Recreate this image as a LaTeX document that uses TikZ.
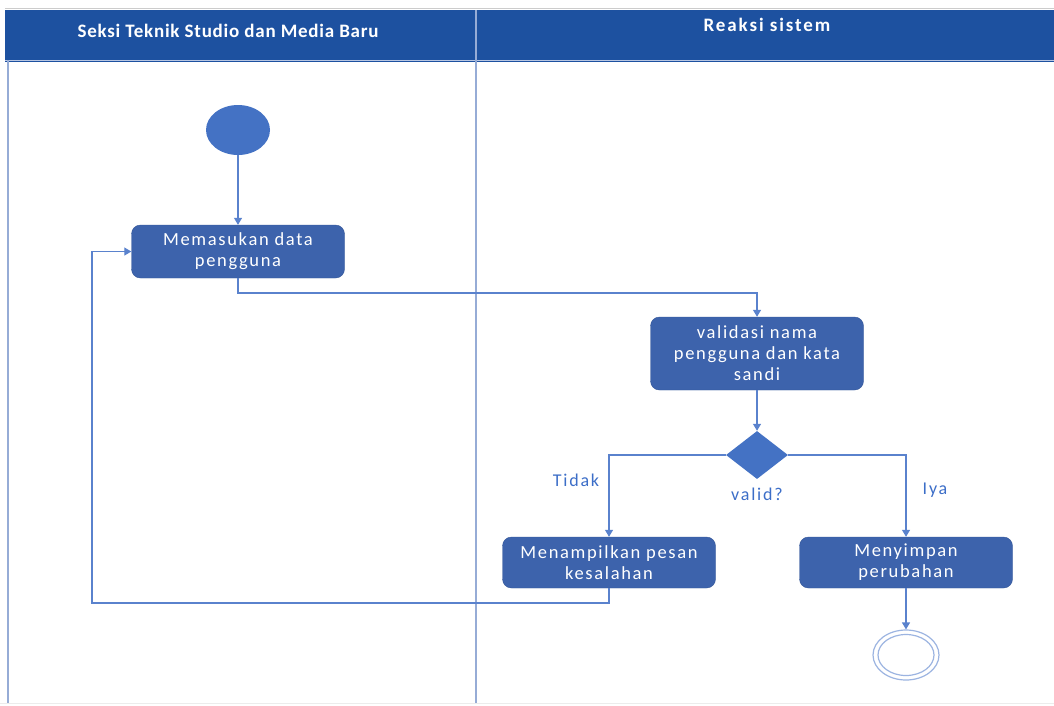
\documentclass[tikz,border=0pt]{standalone}
\usepackage{fontspec}
\setmainfont{Carlito}
\newfontfamily\spaced[LetterSpace=9]{Carlito}
\newfontfamily\lblfont[LetterSpace=10]{Carlito}
\newfontfamily\hdrfont[LetterSpace=4]{Carlito}
\newfontfamily\hdrwide[LetterSpace=10]{Carlito}
\usetikzlibrary{arrows.meta,shapes.geometric}
\definecolor{hdr}{RGB}{29,81,160}
\definecolor{boxfill}{RGB}{61,99,172}
\definecolor{boxedge}{RGB}{52,86,152}
\definecolor{nodefill}{RGB}{68,114,196}
\definecolor{wire}{RGB}{90,130,205}
\definecolor{lane}{RGB}{150,172,214}
\definecolor{lbl}{RGB}{60,110,200}
\begin{document}
\begin{tikzpicture}[x=1pt,y=-1pt,
  act/.style={draw=boxedge,fill=boxfill,rounded corners=9pt,minimum width=213pt,
    text=white,align=center,font=\spaced\fontsize{18.5}{21}\selectfont,inner sep=2pt},
  flow/.style={draw=wire,line width=1.2pt,-{Triangle[length=7pt,width=8pt]}},
  lbltext/.style={text=lbl,font=\lblfont\fontsize{18}{21}\selectfont}]
  \useasboundingbox (0,0) rectangle (1054,705);
  \fill[white] (0,0) rectangle (1054,705);
  % swimlane frame
  \draw[gray!40,line width=0.8pt] (5,8) -- (1054,8);
  \fill[hdr] (5,10) rectangle (1054,62);
  \draw[lane!70,line width=0.8pt] (5,60) -- (1054,60);
  \draw[lane,line width=1.4pt] (8,60) -- (8,703);
  \draw[lane,line width=1.4pt] (476,10) -- (476,703);
  \draw[gray!15,line width=0.8pt] (0,703) -- (1054,703);
  \node[text=white,font=\hdrfont\bfseries\fontsize{19}{22}\selectfont] (lanea) at (228,31) {Seksi Teknik Studio dan Media Baru};
  \node[text=white,font=\hdrwide\bfseries\fontsize{19}{22}\selectfont] (laneb) at (767,25) {Reaksi sistem};

  % nodes
  \node[ellipse,fill=nodefill,minimum width=64pt,minimum height=50pt,inner sep=0] (start) at (238,130) {};
  \node[act,minimum height=53pt] (input) at (238,251.5) {Memasukan data\\pengguna};
  \node[act,minimum height=73pt] (check) at (757,353.5) {validasi nama\\pengguna dan kata\\sandi};
  \node[diamond,fill=nodefill,minimum width=62pt,minimum height=48pt,inner sep=0] (valid) at (757,455) {};
  \node[act,minimum height=51pt] (error) at (609,562.5) {Menampilkan pesan\\kesalahan};
  \node[act,minimum height=51pt] (save) at (906,562.5) {Menyimpan\\perubahan};
  \node[ellipse,draw=wire!60,line width=1.2pt,minimum width=66pt,minimum height=50pt,inner sep=0] (finish) at (906,655) {};
  \node[ellipse,draw=wire!60,line width=1.2pt,minimum width=56pt,minimum height=41pt,inner sep=0] (finishin) at (finish.center) {};

  % labels
  \node[lbltext] (tidak) at (576,480) {Tidak};
  \node[lbltext] (validq) at (757,494) {valid?};
  \node[lbltext] (iya) at (935,490) {Iya};

  % connectors
  \coordinate (c1) at (238,293);
  \coordinate (c2) at (757,293);
  \coordinate (c3) at (609,603);
  \coordinate (c4) at (92,603);
  \coordinate (c5) at (92,251.5);
  \path[flow] (start) -- (input);
  \path[flow] (input.south) -- (c1) -- (c2) -- (check.north);
  \path[flow] (check) -- (valid);
  \path[flow] (valid.west) -| (error.north);
  \path[flow] (valid.east) -| (save.north);
  \path[flow] (error.south) -- (c3) -- (c4) -- (c5) -- (input.west);
  \path[flow] (save) -- (finish);
\end{tikzpicture}
\end{document}
